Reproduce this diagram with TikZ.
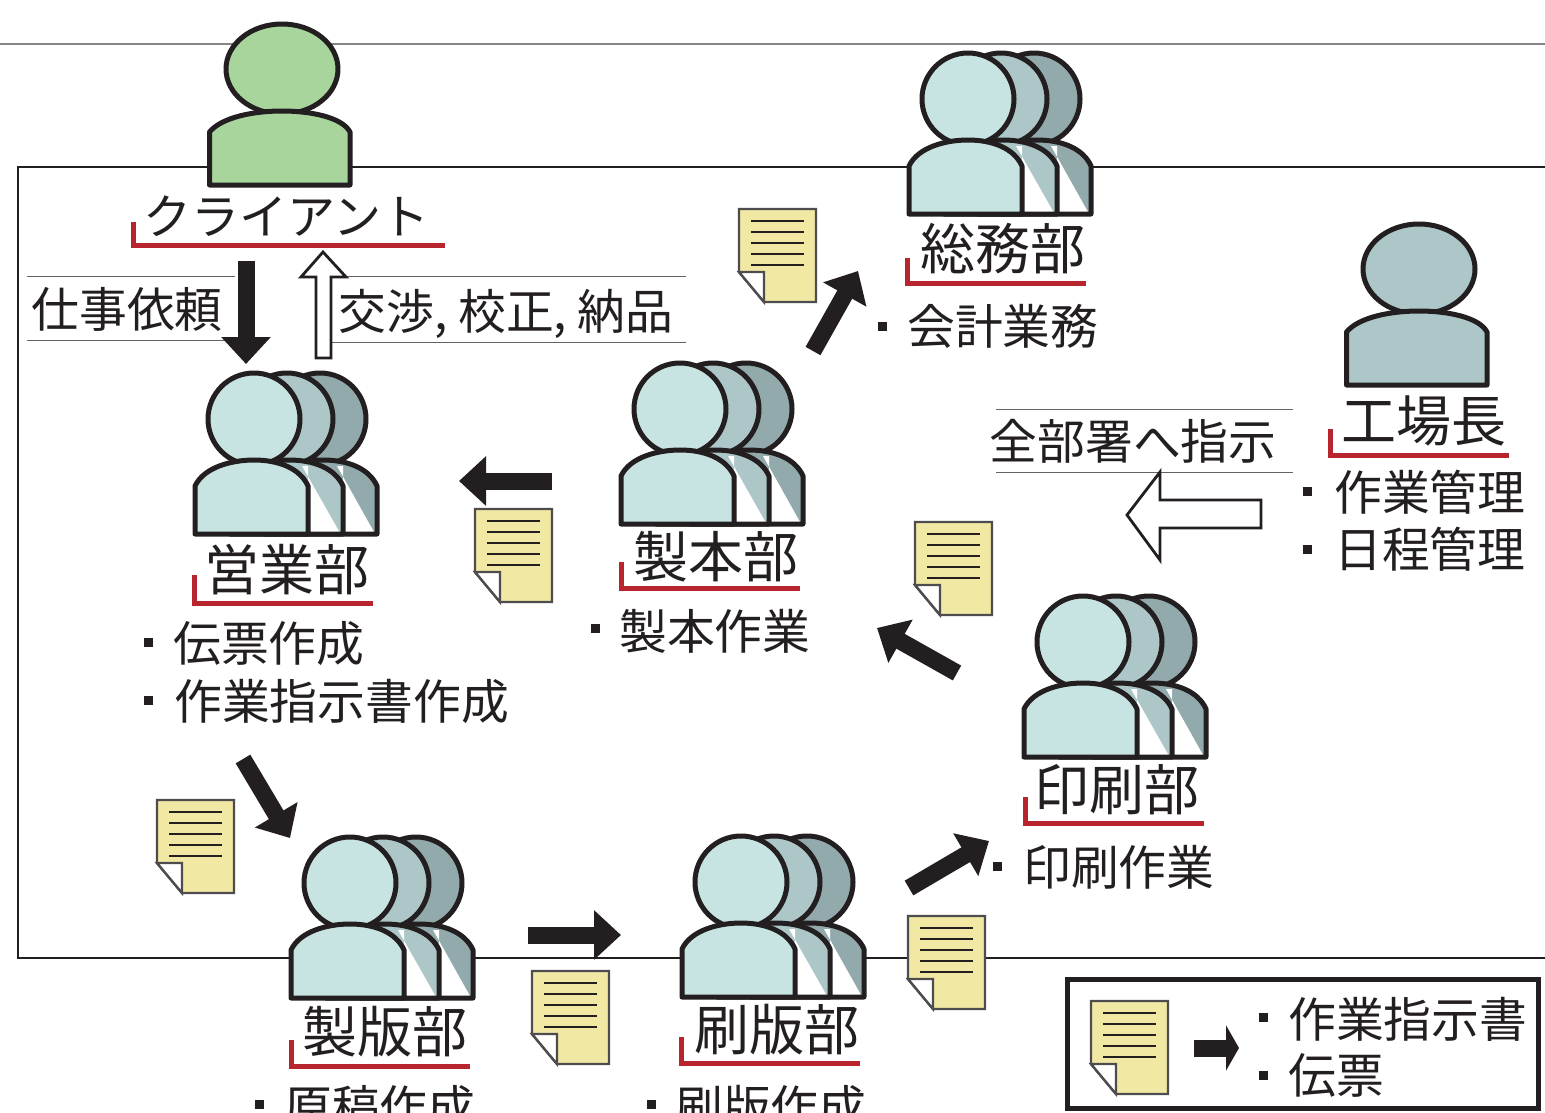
\documentclass[tikz,border=0pt]{standalone}
\usepackage{fontspec}
\setmainfont{Noto Sans CJK JP}
\usetikzlibrary{arrows.meta}
\definecolor{ink}{HTML}{231F20}
\definecolor{frontc}{HTML}{C8E4E2}
\definecolor{midc}{HTML}{ADC6C8}
\definecolor{backc}{HTML}{93AAAD}
\definecolor{greenc}{HTML}{A7D59C}
\definecolor{paper}{HTML}{F1E8A4}
\definecolor{redc}{HTML}{B8252E}
\definecolor{paperedge}{HTML}{4D4D4F}
\tikzset{
  x=1pt,y=-1pt,
  lbl/.style={inner sep=0pt,text=ink,text height=48.4pt,text depth=6.6pt,font=\fontsize{55}{55}\selectfont},
  item/.style={inner sep=0pt,text=ink,text height=42pt,text depth=5.8pt,font=\fontsize{47.8}{48}\selectfont},
  sq/.style={fill=ink,inner sep=0pt,minimum size=9pt,draw=none},
  redl/.style={draw=redc,line width=5pt,line cap=butt,line join=miter},
  thin/.style={draw=ink!70,line width=1pt},
  blk/.style={draw=ink,line width=17pt,-{Triangle[length=27pt,width=48pt]}},
  wht/.style={draw=ink,fill=white,line width=2.8pt,line join=miter},
  outl/.style={draw=ink,line width=5pt,line join=round},
  group/.pic={
    \path[outl,fill=backc] (66,1) circle[radius=46];
    \path[outl,fill=midc] (33,1) circle[radius=46];
    \begin{scope}[shift={(69,0)}]
      \path[fill=backc] (-59,116) -- (-59,68) .. controls (-50,49) and (-22,42) .. (0,42)
      .. controls (24,42) and (46,50) .. (54,68) -- (54,116) -- cycle;
      \fill[white] (14,48) -- (51,114) -- (20,114) -- (20,48) -- cycle;
      \path[outl] (-59,116) -- (-59,68) .. controls (-50,49) and (-22,42) .. (0,42)
      .. controls (24,42) and (46,50) .. (54,68) -- (54,116) -- cycle;
    \end{scope}
    \begin{scope}[shift={(35,0)}]
      \path[fill=midc] (-59,116) -- (-59,68) .. controls (-50,49) and (-22,42) .. (0,42)
      .. controls (24,42) and (46,50) .. (54,68) -- (54,116) -- cycle;
      \fill[white] (13,48) -- (51,115) -- (19,115) -- (19,48) -- cycle;
      \path[outl] (-59,116) -- (-59,68) .. controls (-50,49) and (-22,42) .. (0,42)
      .. controls (24,42) and (46,50) .. (54,68) -- (54,116) -- cycle;
    \end{scope}
    \path[outl,fill=frontc] (0,1) circle[radius=46];
    \path[outl,fill=frontc] (-59,116) -- (-59,68) .. controls (-50,49) and (-22,42) .. (0,42)
      .. controls (24,42) and (46,50) .. (54,68) -- (54,116) -- cycle;
  },
  single/.pic={
    \path[outl,fill=#1] (0,0) ellipse[x radius=56,y radius=45];
    \path[outl,fill=#1] (-72.5,116) -- (-72.5,63) .. controls (-60,48) and (-28,42) .. (0,42)
      .. controls (28,42) and (60,48) .. (68,63) -- (68,116) -- cycle;
  },
  doc/.pic={
    \path[draw=paperedge,line width=2.4pt,fill=paper,line join=miter] (0,0) -- (77,0) -- (77,93) -- (25,93) -- (0,63) -- cycle;
    \path[draw=paperedge,line width=2.4pt,fill=white,line join=miter] (0,63) -- (25,63) -- (25,93) -- cycle;
    \foreach \yy in {12,23,34,45,56} \draw[ink,line width=2pt] (12,\yy) -- (65,\yy);
  }
}
\begin{document}
\begin{tikzpicture}
\useasboundingbox (0,0) rectangle (1545,1112);
\clip (0,0) rectangle (1545,1112);

% frame lines
\draw[draw=ink!55,line width=1.4pt] (0,44) -- (1545,44);
\draw[ink,line width=2.2pt] (1546,167) -- (18,167) -- (18,958) -- (1546,958);
\fill[white] (19,168) rectangle (1546,957);

% people
\pic (cl) at (282,69) {single=greenc};
\pic (fm) at (1419,269) {single=midc};
\pic (sa) at (254,418) {group};
\pic (sb) at (680,408) {group};
\pic (so) at (968,98) {group};
\pic (in) at (1083,641) {group};
\pic (se) at (350,882) {group};
\pic (su) at (741,881) {group};

% red label brackets
\draw[redl] (133.5,222) -- (133.5,245.5) -- (445,245.5);
\draw[redl] (194.5,575) -- (194.5,603.5) -- (373,603.5);
\draw[redl] (621.5,562) -- (621.5,588) -- (800,588);
\draw[redl] (907.5,258) -- (907.5,283.5) -- (1086,283.5);
\draw[redl] (1025.5,797) -- (1025.5,823) -- (1204,823);
\draw[redl] (291.5,1040) -- (291.5,1066) -- (470,1066);
\draw[redl] (681.5,1037) -- (681.5,1063) -- (860,1063);
\draw[redl] (1330.5,429) -- (1330.5,455) -- (1509,455);

% headings
\node[lbl,font=\fontsize{48}{48}\selectfont,text height=42pt,text depth=6pt] (tcl) at (286.5,216) {クライアント};
\node[lbl] (tsa) at (286.5,570) {営業部};
\node[lbl] (tsb) at (715.5,557) {製本部};
\node[lbl] (tso) at (1003,249) {総務部};
\node[lbl] (tin) at (1116.5,790) {印刷部};
\node[lbl] (tse) at (385,1032) {製版部};
\node[lbl] (tsu) at (776.5,1030) {刷版部};
\node[lbl] (tfm) at (1424,421) {工場長};

% thin rules
\draw[thin] (27,276) -- (235,276);
\draw[thin] (27,340) -- (230,340);
\draw[thin] (330,276) -- (686,276);
\draw[thin] (330,342) -- (686,342);
\draw[thin] (996,409) -- (1293,409);
\draw[thin] (996,472) -- (1293,472);

% connector labels
\node[item] (l1) at (127,309) {仕事依頼};
\node[item] (l2) at (506,311) {交渉, 校正, 納品};
\node[item] (l3) at (1133,441) {全部署へ指示};

% item lists
\node[sq] (b1) at (882,326) {}; \node[item,anchor=west] (i1) at (907,326) {会計業務};
\node[sq] (b2) at (1307,491) {}; \node[item,anchor=west] (i2) at (1334,492) {作業管理};
\node[sq] (b3) at (1307,549) {}; \node[item,anchor=west] (i3) at (1334,549) {日程管理};
\node[sq] (b4) at (595,628) {}; \node[item,anchor=west] (i4) at (619,631) {製本作業};
\node[sq] (b5) at (997,866) {}; \node[item,anchor=west] (i5) at (1023,867) {印刷作業};
\node[sq] (b6) at (148,642) {}; \node[item,anchor=west] (i6) at (173,643) {伝票作成};
\node[sq] (b7) at (148,700) {}; \node[item,anchor=west] (i7) at (174,701) {作業指示書作成};
\node[sq] (b8) at (259,1104) {}; \node[item,anchor=west] (i8) at (284,1107) {原稿作成};
\node[sq] (b9) at (651,1104) {}; \node[item,anchor=west] (i9) at (675,1107) {刷版作成};

% documents
\pic (d1) at (739,209) {doc};
\pic (d2) at (475,509) {doc};
\pic (d3) at (915,522) {doc};
\pic (d4) at (157,800) {doc};
\pic (d5) at (532,971) {doc};
\pic (d6) at (908,916) {doc};

% black arrows
\coordinate (a1s) at (246,261); \coordinate (a1e) at (246,364);
\coordinate (a2s) at (552,481); \coordinate (a2e) at (459,481);
\coordinate (a3s) at (813,351); \coordinate (a3e) at (858,271);
\coordinate (a4s) at (243,759); \coordinate (a4e) at (290,838);
\coordinate (a5s) at (528,935); \coordinate (a5e) at (621,935);
\coordinate (a6s) at (909,888); \coordinate (a6e) at (989,841);
\coordinate (a7s) at (957,673); \coordinate (a7e) at (877,628);
\draw[blk] (a1s) -- (a1e);
\draw[blk] (a2s) -- (a2e);
\draw[blk] (a3s) -- (a3e);
\draw[blk] (a4s) -- (a4e);
\draw[blk] (a5s) -- (a5e);
\draw[blk] (a6s) -- (a6e);
\draw[blk] (a7s) -- (a7e);

% white arrows
\draw[wht] (323,252) -- (346,277) -- (331,277) -- (331,358) -- (316,358) -- (316,277) -- (301,277) -- cycle;
\draw[wht] (1127,515) -- (1160,472) -- (1160,500) -- (1261,500) -- (1261,528) -- (1160,528) -- (1160,560) -- cycle;

% legend
\node[draw=ink,line width=5pt,minimum width=471pt,minimum height=129pt,inner sep=0pt] (lg) at (1303,1044) {};
\pic (d7) at (1091,1001) {doc};
\coordinate (a8s) at (1194,1048); \coordinate (a8e) at (1239,1048);
\draw[ink,line width=17pt,-{Triangle[length=13pt,width=45pt]}] (a8s) -- (a8e);
\node[sq] (b10) at (1263,1017) {}; \node[item,anchor=west] (i10) at (1288,1019) {作業指示書};
\node[sq] (b11) at (1263,1075) {}; \node[item,anchor=west] (i11) at (1288,1075) {伝票};
\end{tikzpicture}
\end{document}
